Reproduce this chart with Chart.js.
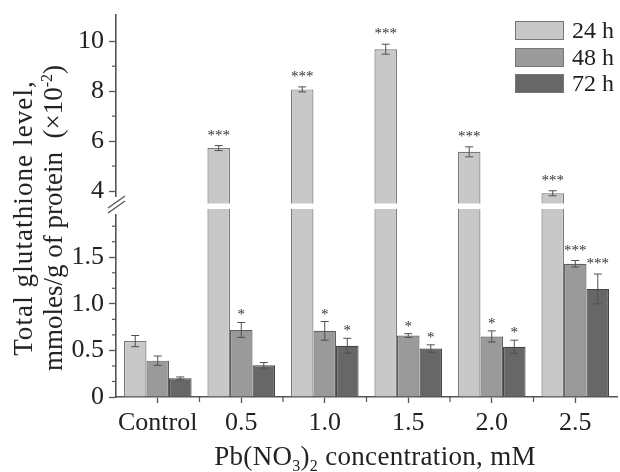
<!DOCTYPE html>
<html>
<head>
<meta charset="utf-8">
<script src="https://cdn.jsdelivr.net/npm/chart.js@4.4.1/dist/chart.umd.min.js"></script>
<style>
  html, body { margin: 0; background: #fff; }
  #wrap { position: relative; width: 620px; height: 472px; font-family: 'Liberation Serif', 'Times New Roman', serif; color: #222; }
  canvas { position: absolute; left: 0; top: 0; }
  .legend { position: absolute; left: 515px; top: 21px; font-size: 24px; }
  .legend .row { position: relative; height: 19px; margin-bottom: 7.5px; }
  .legend .box { position: absolute; left: 0; top: 0; width: 47px; height: 17px; border: 1px solid #777; }
  .legend .txt { position: absolute; left: 57px; top: -5px; line-height: 28px; white-space: nowrap; }
  .ytitle { position: absolute; left: 38px; top: 218px; transform: translate(-50%, -50%) rotate(-90deg);
            font-size: 27px; line-height: 30px; text-align: center; white-space: pre; }
  .ytitle .l1 { letter-spacing: 1.1px; }
  .xtitle { position: absolute; left: 375px; top: 456px; transform: translate(-50%, -50%);
            font-size: 27px; letter-spacing: 0.3px; white-space: nowrap; }
  sub, sup { font-size: 16px; line-height: 0; }
</style>
</head>
<body>
<div id="wrap">
  <canvas id="chart" width="620" height="472"></canvas>
  <div class="legend" id="legend"></div>
  <div class="ytitle"><span class="l1">Total glutathione level,</span>
mmoles/g of protein  (×10<sup>-2</sup>)</div>
  <div class="xtitle">Pb(NO<sub>3</sub>)<sub>2</sub> concentration, mM</div>
</div>
<script>
// ── Data ──────────────────────────────────────────────────────────────────────
const categories = ['Control', '0.5', '1.0', '1.5', '2.0', '2.5'];

const h24    = [0.60, 5.72, 8.07, 9.68, 5.57, 3.91];
const h24Err = [0.06, 0.10, 0.10, 0.20, 0.20, 0.10];
const h48    = [0.39, 0.72, 0.71, 0.66, 0.65, 1.43];
const h48Err = [0.05, 0.08, 0.10, 0.02, 0.06, 0.035];
const h72    = [0.20, 0.34, 0.55, 0.52, 0.54, 1.16];
const h72Err = [0.015, 0.03, 0.08, 0.04, 0.07, 0.16];

const sig24 = ['', '***', '***', '***', '***', '***'];
const sig48 = ['', '*', '*', '*', '*', '***'];
const sig72 = ['', '', '*', '*', '*', '***'];

const seriesLabels = ['24 h', '48 h', '72 h'];
const seriesFill   = ['#c8c8c8', '#9a9a9a', '#676767'];
const seriesBorder = ['#7a7a7a', '#606060', '#444444'];

// broken axis: lower segment 0..LOW_MAX, upper segment HIGH_MIN..HIGH_MAX
const LOW_MAX  = 2.05;
const HIGH_MIN = 3.4;
const HIGH_MAX = 11.05;

const lowTicks       = [0, 0.5, 1.0, 1.5];
const lowTickLabels  = ['0', '0.5', '1.0', '1.5'];
const lowMinorTicks  = [0.1667, 0.3333, 0.6667, 0.8333, 1.1667, 1.3333, 1.6667, 1.8333];
const highTicks      = [4, 6, 8, 10];
const highTickLabels = ['4', '6', '8', '10'];
const highMinorTicks = [5, 7, 9];

// ── Helpers ───────────────────────────────────────────────────────────────────
const AXIS = '#555';
const FONT = { family: "'Liberation Serif', 'Times New Roman', serif", size: 26 };

function line(ctx, x1, y1, x2, y2) {
    ctx.beginPath(); ctx.moveTo(x1, y1); ctx.lineTo(x2, y2); ctx.stroke();
}

function yScale(min, max, ticks, labels) {
    return {
        type: 'linear', position: 'left', stack: 'y', stackWeight: 1,
        min, max, stacked: false,
        afterBuildTicks: s => { s.ticks = ticks.map(v => ({ value: v })); },
        afterFit: s => { s.width = 116; s.paddingTop = 0; s.paddingBottom = 0; },
        ticks: { font: FONT, color: '#222', padding: 5, callback: (v, i) => labels[i] },
        grid: { drawOnChartArea: false, tickLength: 7, tickColor: AXIS, tickWidth: 1.3 },
        border: { display: true, color: AXIS, width: 1.6 }
    };
}

// ── Extras: break, error bars, asterisks, minor ticks ─────────────────────────
const extras = {
    id: 'extras',
    afterDraw(chart) {
        const ctx = chart.ctx, a = chart.chartArea;
        const lo = chart.scales.yLow, hi = chart.scales.yHigh, xs = chart.scales.x;
        const cut = lo.top;
        ctx.save();

        // white gap through bars and axis
        ctx.fillStyle = '#fff';
        ctx.fillRect(a.left + 1, cut - 2.5, a.right - a.left, 5.5);
        ctx.fillRect(a.left - 5, cut - 9, 10, 17);

        ctx.strokeStyle = AXIS;
        ctx.lineWidth = 1.3;
        line(ctx, a.left - 8, cut + 7, a.left + 9, cut - 5);
        line(ctx, a.left - 8, cut + 2, a.left + 9, cut - 10);

        // minor ticks
        ctx.lineWidth = 1.2;
        lowMinorTicks.forEach(v => { const y = lo.getPixelForValue(v); line(ctx, a.left - 4, y, a.left, y); });
        highMinorTicks.forEach(v => { const y = hi.getPixelForValue(v); line(ctx, a.left - 4, y, a.left, y); });
        for (let i = 1; i < categories.length; i++) {
            const x = xs.getPixelForValue(i - 0.5);
            line(ctx, x, a.bottom, x, a.bottom + 5);
        }

        // error bars + significance marks
        const series = [[h24, h24Err, sig24], [h48, h48Err, sig48], [h72, h72Err, sig72]];
        ctx.lineWidth = 1;
        ctx.strokeStyle = '#505050';
        ctx.fillStyle = '#333';
        ctx.font = "15px 'Liberation Serif', serif";
        ctx.textAlign = 'center';
        ctx.textBaseline = 'alphabetic';
        series.forEach(([vals, errs, sigs], s) => {
            const meta = chart.getDatasetMeta(s);
            vals.forEach((v, i) => {
                const sc = v > LOW_MAX ? hi : lo;
                const bx = meta.data[i].x;
                const yt = sc.getPixelForValue(v + errs[i]);
                const yb = sc.getPixelForValue(v - errs[i]);
                line(ctx, bx, yt, bx, yb);
                line(ctx, bx - 4, yt, bx + 4, yt);
                line(ctx, bx - 4, yb, bx + 4, yb);
                if (sigs[i]) ctx.fillText(sigs[i], bx, yt - (sigs[i].length > 1 ? 6 : 3));
            });
        });
        ctx.restore();
    }
};

// ── Chart ─────────────────────────────────────────────────────────────────────
const lowDatasets = [h24, h48, h72].map((vals, s) => ({
    label: seriesLabels[s],
    data: vals.map(v => Math.min(v, LOW_MAX)),
    yAxisID: 'yLow',
    stack: 's' + s,
    backgroundColor: seriesFill[s],
    borderColor: seriesBorder[s],
    borderWidth: 1.2,
    barPercentage: 1.0,
    categoryPercentage: 0.81
}));

const highDataset = {
    label: '24 h (upper)',
    data: h24.map(v => v > LOW_MAX ? [HIGH_MIN, v] : null),
    yAxisID: 'yHigh',
    stack: 's0',
    backgroundColor: seriesFill[0],
    borderColor: seriesBorder[0],
    borderWidth: 1.2,
    borderSkipped: 'start',
    barPercentage: 1.0,
    categoryPercentage: 0.81
};

new Chart(document.getElementById('chart'), {
    type: 'bar',
    data: { labels: categories, datasets: [...lowDatasets, highDataset] },
    options: {
        responsive: false,
        animation: false,
        devicePixelRatio: 1,
        layout: { padding: { top: 15, right: 3, left: 0, bottom: 0 } },
        plugins: { legend: { display: false }, tooltip: { enabled: false } },
        scales: {
            x: {
                type: 'category', offset: true,
                afterFit: s => { s.height = 75; },
                ticks: { font: FONT, color: '#222', padding: 5, maxRotation: 0 },
                grid: { drawOnChartArea: false, offset: false, tickLength: 6, tickColor: AXIS, tickWidth: 1.3 },
                border: { display: true, color: AXIS, width: 1.6 }
            },
            yLow: yScale(0, LOW_MAX, lowTicks, lowTickLabels),
            yHigh: yScale(HIGH_MIN, HIGH_MAX, highTicks, highTickLabels)
        }
    },
    plugins: [extras]
});

// legend
document.getElementById('legend').innerHTML = seriesLabels.map((l, s) =>
    `<div class="row"><span class="box" style="background:${seriesFill[s]}"></span><span class="txt">${l}</span></div>`
).join('');
</script>
</body>
</html>
